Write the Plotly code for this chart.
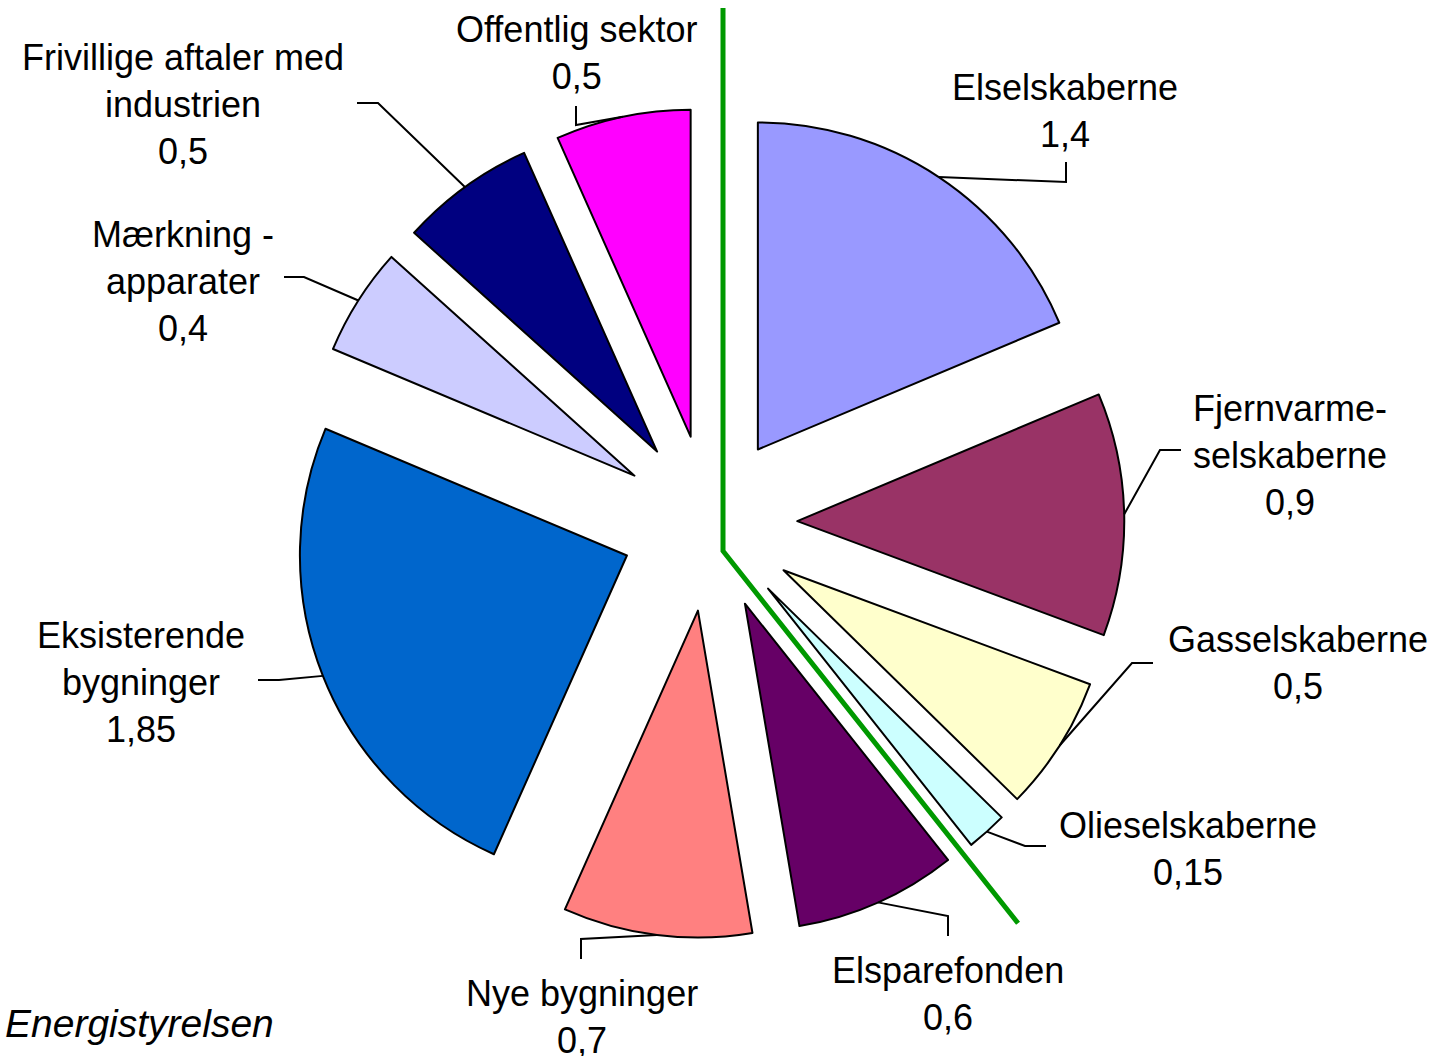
import numpy as np
import plotly.graph_objects as go

# ---------------- data ----------------
labels = [
    "Elselskaberne",
    "Fjernvarme-<br>selskaberne",
    "Gasselskaberne",
    "Olieselskaberne",
    "Elsparefonden",
    "Nye bygninger",
    "Eksisterende<br>bygninger",
    "Mærkning -<br>apparater",
    "Frivillige aftaler med<br>industrien",
    "Offentlig sektor",
]
values = [1.4, 0.9, 0.5, 0.15, 0.6, 0.7, 1.85, 0.4, 0.5, 0.5]
value_text = ["1,4", "0,9", "0,5", "0,15", "0,6", "0,7", "1,85", "0,4", "0,5", "0,5"]
colors = ["#9999FF", "#993366", "#FFFFCC", "#CCFFFF", "#660066",
          "#FF8080", "#0066CC", "#CCCCFF", "#000080", "#FF00FF"]
source_text = "Energistyrelsen"

# ---------------- layout constants (pixels) ----------------
W, H = 1456, 1056
CX, CY = 709, 523        # pie centre
R = 327                  # pie radius
PULL = 0.27              # explode fraction
FONT = "Liberation Sans, Arial, sans-serif"
FS = 36

# label block centres
label_pos = [(1065, 111), (1290, 455), (1298, 663), (1188, 849), (948, 994),
             (582, 1017), (141, 682), (183, 281), (183, 104), (576, 53)]
# leader line elbow and end points
leader_pts = [
    [(1066, 182), (1066, 162)],
    [(1160, 450), (1181, 450)],
    [(1132, 663), (1153, 663)],
    [(1025, 846), (1046, 846)],
    [(948, 916), (948, 936)],
    [(581, 939), (581, 959)],
    [(279, 680), (258, 680)],
    [(304, 277), (284, 277)],
    [(378, 103), (357, 103)],
    [(576, 125), (576, 106)],
]
DIV_CORNER = (723, 551)
DIV_TOP = 8
DIV_LEN = 475


def px(x):
    return x / W


def py(y):
    return 1 - y / H


# pie domain so that centre & radius land where wanted
box = R * 2 * (1 + PULL)
dx = box / W / 2
dy = box / H / 2
dom_x = [px(CX) - dx, px(CX) + dx]
dom_y = [py(CY) - dy, py(CY) + dy]

fig = go.Figure()
fig.add_trace(go.Pie(
    labels=[l.replace("<br>", " ") for l in labels],
    values=values,
    sort=False,
    direction="clockwise",
    rotation=0,
    pull=[PULL] * len(values),
    marker=dict(colors=colors, line=dict(color="black", width=2)),
    textinfo="none",
    hoverinfo="label+value",
    showlegend=False,
    domain=dict(x=dom_x, y=dom_y),
))

# angles
vals = np.array(values)
total = vals.sum()
cum = np.cumsum(vals)
mid_deg = (cum - vals / 2) / total * 360

shapes = []
annotations = []
for i, lab in enumerate(labels):
    a = np.deg2rad(mid_deg[i])
    sx = CX + R * (1 + PULL) * np.sin(a)
    sy = CY - R * (1 + PULL) * np.cos(a)
    (ex1, ey1), (ex2, ey2) = leader_pts[i]
    path = f"M {px(sx)},{py(sy)} L {px(ex1)},{py(ey1)} L {px(ex2)},{py(ey2)}"
    shapes.append(dict(type="path", path=path, xref="paper", yref="paper",
                       line=dict(color="black", width=2)))
    lx, ly = label_pos[i]
    annotations.append(dict(
        text=f"{lab}<br>{value_text[i]}", x=px(lx), y=py(ly),
        xref="paper", yref="paper", xanchor="center", yanchor="middle",
        showarrow=False, align="center",
        font=dict(family=FONT, size=FS, color="black")))

# green divider between supply-side and demand-side actors
b = np.deg2rad(cum[3] / total * 360)
cx0, cy0 = DIV_CORNER
ex = cx0 + DIV_LEN * np.sin(b)
ey = cy0 - DIV_LEN * np.cos(b)
shapes.append(dict(type="path",
                   path=f"M {px(cx0)},{py(DIV_TOP)} L {px(cx0)},{py(cy0)} L {px(ex)},{py(ey)}",
                   xref="paper", yref="paper",
                   line=dict(color="#009900", width=5)))

annotations.append(dict(
    text=f"<i>{source_text}</i>", x=px(3), y=py(1023), xref="paper", yref="paper",
    xanchor="left", yanchor="middle", showarrow=False,
    font=dict(family=FONT, size=39, color="black")))

fig.update_layout(
    width=W, height=H, autosize=False,
    margin=dict(l=0, r=0, t=0, b=0),
    paper_bgcolor="white", plot_bgcolor="white",
    shapes=shapes, annotations=annotations,
)

fig.write_html(
    "out.html",
    config={"displayModeBar": False},
    post_script="document.body.style.margin='0';document.body.style.overflow='hidden';",
)
